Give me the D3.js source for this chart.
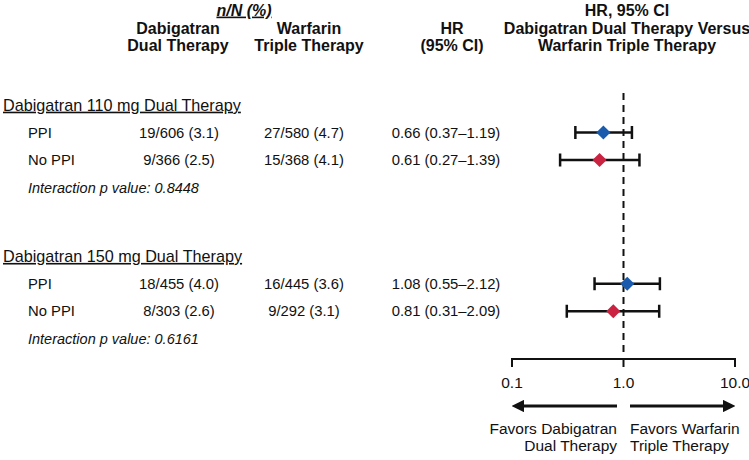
<!DOCTYPE html>
<html>
<head>
<meta charset="utf-8">
<script src="https://cdn.jsdelivr.net/npm/d3@7"></script>
<style>
  html, body { margin: 0; padding: 0; background: #fff; }
  svg { display: block; }
  text { font-family: "Liberation Sans", Arial, Helvetica, sans-serif; fill: #111; }
</style>
</head>
<body>
<svg id="chart" width="749" height="460"></svg>
<script>
// ---- Data ----
const groups = ["Dabigatran 110 mg Dual Therapy", "Dabigatran 150 mg Dual Therapy"];
const interactionP = ["0.8448", "0.6161"];
const subgroups = ["PPI", "No PPI", "PPI", "No PPI"];
const dabigatranDual = ["19/606 (3.1)", "9/366 (2.5)", "18/455 (4.0)", "8/303 (2.6)"];
const warfarinTriple = ["27/580 (4.7)", "15/368 (4.1)", "16/445 (3.6)", "9/292 (3.1)"];
const hrText = ["0.66 (0.37–1.19)", "0.61 (0.27–1.39)", "1.08 (0.55–2.12)", "0.81 (0.31–2.09)"];
const hr = [0.66, 0.61, 1.08, 0.81];
const ciLow = [0.37, 0.27, 0.55, 0.31];
const ciHigh = [1.19, 1.39, 2.12, 2.09];
const axisTicks = [0.1, 1, 10];
const axisTickLabels = ["0.1", "1.0", "10.0"];

// ---- Layout ----
const svg = d3.select("#chart");
const x = d3.scaleLog().domain([0.1, 10]).range([512, 735]);
const yslot = d3.scaleLinear().domain([0, 1]).range([105, 132.5]);
const groupHeaderSlot = [0, 5.5];
const rowSlot = [1, 2, 6.5, 7.5];
const interactionSlot = [3, 8.5];

const colorFor = i => (subgroups[i] === "PPI" ? "#1b5bae" : "#c92341");

// ---- Column headers ----
const hdr = svg.append("g").attr("font-weight", "bold").attr("font-size", 16).attr("text-anchor", "middle");
hdr.append("text").attr("x", 244).attr("y", 10).attr("dy", "0.35em")
  .attr("font-style", "italic").attr("text-decoration", "underline").text("n/N (%)");
hdr.append("text").attr("x", 178).attr("y", 28).attr("dy", "0.35em").text("Dabigatran");
hdr.append("text").attr("x", 178).attr("y", 45).attr("dy", "0.35em").text("Dual Therapy");
hdr.append("text").attr("x", 309).attr("y", 28).attr("dy", "0.35em").text("Warfarin");
hdr.append("text").attr("x", 309).attr("y", 45).attr("dy", "0.35em").text("Triple Therapy");
hdr.append("text").attr("x", 452).attr("y", 28).attr("dy", "0.35em").text("HR");
hdr.append("text").attr("x", 452).attr("y", 45).attr("dy", "0.35em").text("(95% CI)");
hdr.append("text").attr("x", 627).attr("y", 10).attr("dy", "0.35em").text("HR, 95% CI");
hdr.append("text").attr("x", 627).attr("y", 28).attr("dy", "0.35em").text("Dabigatran Dual Therapy Versus");
hdr.append("text").attr("x", 627).attr("y", 45).attr("dy", "0.35em").text("Warfarin Triple Therapy");

// ---- Reference dashed line at HR = 1 ----
svg.append("line")
  .attr("x1", x(1)).attr("x2", x(1))
  .attr("y1", 93).attr("y2", 352)
  .attr("stroke", "#111").attr("stroke-width", 2)
  .attr("stroke-dasharray", "7,5");

// ---- Group headers and interaction ----
groups.forEach((g, gi) => {
  svg.append("text").attr("x", 3).attr("y", yslot(groupHeaderSlot[gi])).attr("dy", "0.35em")
    .attr("font-size", 16.2).attr("text-decoration", "underline").text(g);
  svg.append("text").attr("x", 28).attr("y", yslot(interactionSlot[gi])).attr("dy", "0.35em")
    .attr("font-size", 14.5).attr("font-style", "italic").text("Interaction p value: " + interactionP[gi]);
});

// ---- Rows ----
const rows = svg.append("g").selectAll("g").data(subgroups).join("g")
  .attr("transform", (d, i) => `translate(0,${yslot(rowSlot[i])})`);
rows.append("text").attr("x", 28).attr("dy", "0.35em").attr("font-size", 14.8).text(d => d);
rows.append("text").attr("x", 179).attr("dy", "0.35em").attr("font-size", 14.8).attr("text-anchor", "middle")
  .text((d, i) => dabigatranDual[i]);
rows.append("text").attr("x", 304).attr("dy", "0.35em").attr("font-size", 14.8).attr("text-anchor", "middle")
  .text((d, i) => warfarinTriple[i]);
rows.append("text").attr("x", 446).attr("dy", "0.35em").attr("font-size", 14.8).attr("text-anchor", "middle")
  .text((d, i) => hrText[i]);

// CI lines
rows.append("line").attr("x1", (d, i) => x(ciLow[i])).attr("x2", (d, i) => x(ciHigh[i]))
  .attr("y1", 0).attr("y2", 0).attr("stroke", "#111").attr("stroke-width", 2.5);
rows.append("line").attr("x1", (d, i) => x(ciLow[i])).attr("x2", (d, i) => x(ciLow[i]))
  .attr("y1", -6.5).attr("y2", 6.5).attr("stroke", "#111").attr("stroke-width", 2.5);
rows.append("line").attr("x1", (d, i) => x(ciHigh[i])).attr("x2", (d, i) => x(ciHigh[i]))
  .attr("y1", -6.5).attr("y2", 6.5).attr("stroke", "#111").attr("stroke-width", 2.5);
// diamonds
rows.append("path")
  .attr("d", d3.symbol().type(d3.symbolSquare).size(100))
  .attr("transform", (d, i) => `translate(${x(hr[i])},0) rotate(45)`)
  .attr("fill", (d, i) => colorFor(i));

// ---- Axis ----
const axisY = 359;
const axisG = svg.append("g").attr("transform", `translate(0,${axisY})`);
axisG.append("line").attr("x1", x(0.1)).attr("x2", x(10)).attr("stroke", "#111").attr("stroke-width", 2);
axisG.selectAll("line.tick").data(axisTicks).join("line").attr("class", "tick")
  .attr("x1", d => x(d)).attr("x2", d => x(d)).attr("y1", -1).attr("y2", 8)
  .attr("stroke", "#111").attr("stroke-width", 2);
axisG.selectAll("text").data(axisTicks).join("text")
  .attr("x", d => x(d)).attr("y", 24).attr("dy", "0.35em").attr("text-anchor", "middle")
  .attr("font-size", 15.5).text((d, i) => axisTickLabels[i]);

// ---- Arrows ----
const arrowY = 406;
const defs = svg.append("defs");
defs.append("marker").attr("id", "ah").attr("viewBox", "0 0 10 10").attr("refX", 1).attr("refY", 5)
  .attr("markerWidth", 4.2).attr("markerHeight", 4.2).attr("orient", "auto-start-reverse")
  .attr("markerUnits", "strokeWidth")
  .append("path").attr("d", "M0,0 L10,5 L0,10 Z").attr("fill", "#111");
svg.append("line").attr("x1", 617).attr("x2", x(0.1) + 11).attr("y1", arrowY).attr("y2", arrowY)
  .attr("stroke", "#111").attr("stroke-width", 3).attr("marker-end", "url(#ah)");
svg.append("line").attr("x1", 630).attr("x2", x(10) - 11).attr("y1", arrowY).attr("y2", arrowY)
  .attr("stroke", "#111").attr("stroke-width", 3).attr("marker-end", "url(#ah)");

const fav = svg.append("g").attr("font-size", 15.5);
fav.append("text").attr("x", 617).attr("y", 429).attr("dy", "0.35em").attr("text-anchor", "end").text("Favors Dabigatran");
fav.append("text").attr("x", 617).attr("y", 446).attr("dy", "0.35em").attr("text-anchor", "end").text("Dual Therapy");
fav.append("text").attr("x", 630).attr("y", 429).attr("dy", "0.35em").text("Favors Warfarin");
fav.append("text").attr("x", 630).attr("y", 446).attr("dy", "0.35em").text("Triple Therapy");
</script>
</body>
</html>
